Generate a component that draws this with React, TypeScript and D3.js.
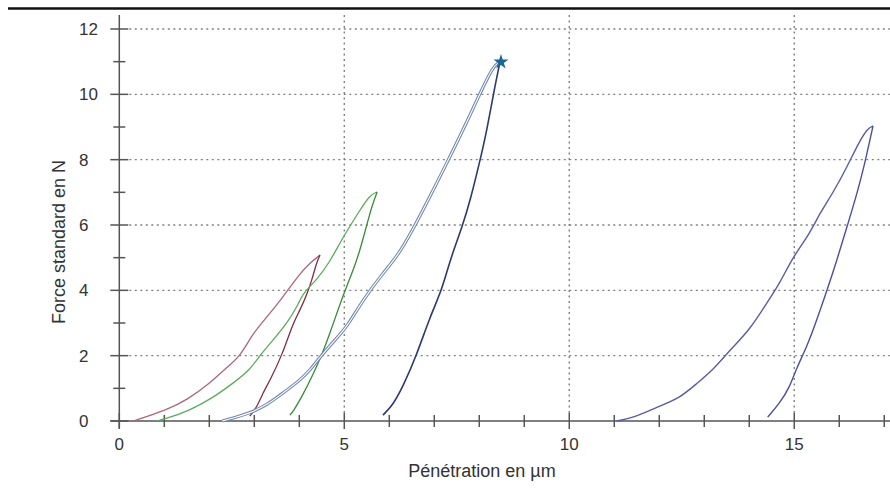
import { useMemo } from "react";
import * as d3 from "d3";

const WIDTH = 890;
const HEIGHT = 493;

type Pt = [number, number];

// penetration (µm), force (N)
const redLoading: Pt[] = [
  [0.31, 0], [1.06, 0.34], [1.5, 0.64], [2.02, 1.16], [2.39, 1.65], [2.68, 1.96],
  [2.97, 2.69], [3.28, 3.18], [3.64, 3.8], [4.02, 4.53], [4.24, 4.84], [4.46, 5.08],
];
const redUnloading: Pt[] = [
  [4.46, 5.08], [4.39, 4.87], [4.28, 4.32], [4.19, 3.95], [4.02, 3.4], [3.86, 3.0],
  [3.62, 2.02], [3.35, 1.25], [3.17, 0.8], [3.06, 0.43], [2.9, 0.15],
];
const greenLoading: Pt[] = [
  [0.84, 0], [1.42, 0.24], [1.79, 0.49], [2.17, 0.8], [2.53, 1.16], [2.9, 1.56],
  [3.13, 2.02], [3.42, 2.48], [3.73, 3.0], [3.95, 3.49], [4.08, 3.92], [4.39, 4.32],
  [4.68, 4.87], [4.97, 5.63], [5.35, 6.46], [5.57, 6.92], [5.73, 7.01],
];
const greenUnloading: Pt[] = [
  [5.73, 7.01], [5.62, 6.61], [5.5, 6.0], [5.35, 5.23], [5.2, 4.62], [5.02, 4.01],
  [4.86, 3.4], [4.68, 2.69], [4.5, 2.02], [4.3, 1.41], [4.08, 0.8], [3.86, 0.28], [3.79, 0.18],
];
const blueLoading: Pt[] = [
  [2.29, 0], [2.53, 0.09], [2.9, 0.24], [3.28, 0.49], [3.64, 0.86], [4.02, 1.25],
  [4.24, 1.56], [4.5, 2.02], [4.79, 2.48], [5.06, 2.88], [5.41, 3.7], [5.86, 4.53],
  [6.17, 5.02], [6.52, 5.85], [6.9, 6.86], [7.28, 7.9], [7.64, 8.91], [8.02, 10.04],
  [8.31, 10.87], [8.46, 10.99],
];
const blueUnloading: Pt[] = [
  [8.46, 10.99], [8.33, 10.13], [8.17, 8.91], [8.02, 7.99], [7.8, 6.76], [7.62, 5.94],
  [7.35, 4.93], [7.17, 4.01], [6.9, 3.18], [6.61, 2.02], [6.3, 1.04], [6.08, 0.49], [5.86, 0.18],
];
const purpleLoading: Pt[] = [
  [11.05, 0], [11.42, 0.09], [11.95, 0.43], [12.46, 0.7], [12.84, 1.16], [13.19, 1.56],
  [13.57, 2.17], [14.01, 2.79], [14.39, 3.61], [14.68, 4.22], [14.97, 5.02], [15.35, 5.75],
  [15.57, 6.37], [15.86, 6.98], [16.17, 7.77], [16.46, 8.6], [16.64, 8.97], [16.75, 9.03],
];
const purpleUnloading: Pt[] = [
  [16.75, 9.03], [16.68, 8.6], [16.57, 7.9], [16.4, 6.98], [16.17, 5.94], [15.95, 4.93],
  [15.73, 4.01], [15.5, 3.09], [15.28, 2.27], [15.06, 1.65], [14.9, 1.04], [14.68, 0.55], [14.41, 0.12],
];
const peakMarker: Pt = [8.46, 10.99];

const xMajor = [0, 5, 10, 15];
const yMajor = [0, 2, 4, 6, 8, 10, 12];

const FONT = '"Liberation Sans", Arial, sans-serif';

export default function App() {
  const x = useMemo(() => d3.scaleLinear().domain([0, 17.15]).range([119.3, 891]), []);
  const y = useMemo(() => d3.scaleLinear().domain([0, 12]).range([421, 29]), []);

  // basis keeps the hand-read points from looking bumpy
  const line = d3
    .line<Pt>()
    .x((d) => x(d[0]))
    .y((d) => y(d[1]))
    .curve(d3.curveBasis);

  const xMinor = d3.range(0, 18).filter((v) => !xMajor.includes(v));
  const yMinor = d3.range(1, 12, 2);
  const x0 = x(0);
  const y0 = y(0);

  const star = d3.symbol(d3.symbolStar, 70)();

  return (
    <svg
      width={WIDTH}
      height={HEIGHT}
      style={{ position: "absolute", left: 0, top: 0, background: "#fff" }}
      fontFamily={FONT}
    >
      {/* page rule at the top */}
      <line x1={8} x2={WIDTH} y1={8.5} y2={8.5} stroke="#111" strokeWidth={2.5} />

      {/* grid */}
      {yMajor.filter((v) => v > 0).map((v) => (
        <line key={"gy" + v} x1={x0 + 10} x2={WIDTH} y1={y(v)} y2={y(v)}
          stroke="#808080" strokeWidth={1.4} strokeDasharray="2,3.5" />
      ))}
      {xMajor.filter((v) => v > 0).map((v) => (
        <line key={"gx" + v} x1={x(v)} x2={x(v)} y1={15} y2={y0 - 8}
          stroke="#808080" strokeWidth={1.4} strokeDasharray="2,3.5" />
      ))}

      {/* axes */}
      <line x1={x0} x2={x0} y1={15} y2={y0 + 7} stroke="#555" strokeWidth={1.5} />
      <line x1={x0 - 9} x2={WIDTH} y1={y0} y2={y0} stroke="#555" strokeWidth={1.5} />
      {yMajor.map((v) => (
        <g key={"ty" + v}>
          <line x1={x0 - 9} x2={x0 + 9} y1={y(v)} y2={y(v)} stroke="#555" strokeWidth={1.5} />
          <text x={79} y={y(v)} dy="0.36em" fontSize={17} fill="#333">{v}</text>
        </g>
      ))}
      {yMinor.map((v) => (
        <line key={"my" + v} x1={x0 - 6} x2={x0 + 6} y1={y(v)} y2={y(v)} stroke="#555" strokeWidth={1.5} />
      ))}
      {xMajor.map((v) => (
        <g key={"tx" + v}>
          <line x1={x(v)} x2={x(v)} y1={y0 - 8} y2={y0 + 8} stroke="#555" strokeWidth={1.5} />
          <text x={x(v)} y={450} textAnchor="middle" fontSize={17} fill="#333">{v}</text>
        </g>
      ))}
      {xMinor.map((v) => (
        <line key={"mx" + v} x1={x(v)} x2={x(v)} y1={y0 - 6} y2={y0 + 6} stroke="#555" strokeWidth={1.5} />
      ))}

      {/* axis titles */}
      <text x={482} y={477} textAnchor="middle" fontSize={18} fill="#333">Pénétration en µm</text>
      <text transform="translate(65,242) rotate(-90)" textAnchor="middle" fontSize={18} fill="#333">
        Force standard en N
      </text>

      {/* curves */}
      <path d={line(redLoading) ?? ""} fill="none" stroke="#b0667a" strokeWidth={1.3} />
      <path d={line(redUnloading) ?? ""} fill="none" stroke="#7f2e44" strokeWidth={1.3} />
      <path d={line(greenLoading) ?? ""} fill="none" stroke="#5aac5a" strokeWidth={1.3} />
      <path d={line(greenUnloading) ?? ""} fill="none" stroke="#3a8a3a" strokeWidth={1.3} />
      <path d={line(blueLoading) ?? ""} fill="none" stroke="#6f86ad" strokeWidth={3.2} />
      <path d={line(blueLoading) ?? ""} fill="none" stroke="#ffffff" strokeWidth={1.1} />
      <path d={line(blueUnloading) ?? ""} fill="none" stroke="#2c3a72" strokeWidth={1.6} />
      <path d={line(purpleLoading) ?? ""} fill="none" stroke="#5b5ba8" strokeWidth={1.4} />
      <path d={line(purpleUnloading) ?? ""} fill="none" stroke="#4e4ea0" strokeWidth={1.4} />

      <path d={star ?? ""} transform={`translate(${x(peakMarker[0]) + 1},${y(peakMarker[1])})`} fill="#1d6592" />
    </svg>
  );
}
